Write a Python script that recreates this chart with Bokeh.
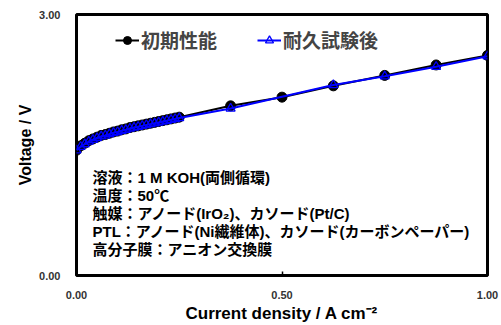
import math
from bokeh.plotting import figure
from bokeh.models import Range1d, FixedTicker, NumeralTickFormatter, Label, Legend, LegendItem, Title
from bokeh.embed import file_html
from bokeh.resources import INLINE

# ---- data ----
x_initial = [0.0, 0.01, 0.02, 0.03, 0.04, 0.05, 0.06, 0.07, 0.08, 0.09, 0.10, 0.11, 0.12,
             0.13, 0.14, 0.15, 0.16, 0.17, 0.18, 0.19, 0.20, 0.21, 0.22, 0.23, 0.24, 0.25,
             0.375, 0.50, 0.625, 0.75, 0.875, 1.00]
v_initial = [1.44, 1.49, 1.52, 1.55, 1.57, 1.59, 1.61, 1.62, 1.635, 1.65, 1.66, 1.675, 1.685,
             1.70, 1.71, 1.72, 1.73, 1.74, 1.75, 1.76, 1.77, 1.78, 1.79, 1.80, 1.81, 1.82,
             1.95, 2.05, 2.18, 2.30, 2.42, 2.53]
x_after = [0.0, 0.01, 0.02, 0.03, 0.04, 0.05, 0.06, 0.07, 0.08, 0.09, 0.10, 0.11, 0.12,
           0.13, 0.14, 0.15, 0.16, 0.17, 0.18, 0.19, 0.20, 0.21, 0.22, 0.23, 0.24, 0.25,
           0.375, 0.625, 0.75, 0.875, 1.00]
v_after = [1.44, 1.48, 1.51, 1.54, 1.56, 1.58, 1.60, 1.61, 1.625, 1.64, 1.65, 1.665, 1.675,
           1.69, 1.70, 1.71, 1.72, 1.73, 1.74, 1.75, 1.76, 1.77, 1.78, 1.79, 1.80, 1.81,
           1.92, 2.19, 2.29, 2.40, 2.52]
series_names = ["初期性能", "耐久試験後"]
x_ticks = [0.0, 0.5, 1.0]
y_ticks = [0.0, 3.0]
x_title = "Current density / A cm⁻²"
y_title = "Voltage / V"
notes = [
    "溶液：1 M KOH(両側循環)",
    "温度：50℃",
    "触媒：アノード(IrO₂)、カソード(Pt/C)",
    "PTL：アノード(Ni繊維体)、カソード(カーボンペーパー)",
    "高分子膜：アニオン交換膜",
]

p = figure(width=501, height=325, output_backend="svg", toolbar_location=None,
           x_range=Range1d(0, 1), y_range=Range1d(0, 3),
           min_border_left=76, min_border_right=14, min_border_top=14, min_border_bottom=50)
p.background_fill_color = "white"
p.border_fill_color = "white"
p.grid.visible = False
p.outline_line_color = "black"
p.outline_line_width = 3
p.outline_line_alpha = 1

for ax in (p.xaxis[0], p.yaxis[0]):
    ax.axis_line_color = None
    ax.major_tick_out = 0
    ax.major_tick_in = 4
    ax.major_tick_line_width = 1.5
    ax.major_tick_line_color = "black"
    ax.minor_tick_line_color = None
    ax.major_label_text_font = "Liberation Sans"
    ax.major_label_text_font_size = "11px"
    ax.major_label_text_font_style = "bold"
    ax.major_label_text_color = "#333333"
    ax.formatter = NumeralTickFormatter(format="0.00")

p.xaxis.ticker = FixedTicker(ticks=x_ticks)
p.yaxis.ticker = FixedTicker(ticks=y_ticks)
p.xaxis.major_label_standoff = 15
p.yaxis.major_label_standoff = 16
p.xaxis.axis_label = x_title
p.xaxis.axis_label_text_font = "Liberation Sans"
p.xaxis.axis_label_text_font_size = "17px"
p.xaxis.axis_label_text_font_style = "bold"
p.xaxis.axis_label_text_color = "black"
p.xaxis.axis_label_standoff = 2

# y title as a left-side Title, shifted up
p.add_layout(Title(text=y_title, align="center", offset=24,
                   text_font="Liberation Sans", text_font_size="16px",
                   text_font_style="bold", text_color="black", standoff=6), "left")

l1 = p.line(x_initial, v_initial, line_color="black", line_width=2)
s1 = p.scatter(x_initial, v_initial, marker="circle", size=10,
               fill_color="black", line_color="black")
l2 = p.line(x_after, v_after, line_color="#0000ff", line_width=2)
s2 = p.scatter(x_after, v_after, marker="triangle", size=9,
               fill_color=None, line_color="#0000ff", line_width=1.3)

legend = Legend(items=[LegendItem(label=series_names[0], renderers=[l1, s1]),
                       LegendItem(label=series_names[1], renderers=[l2, s2])],
                orientation="horizontal", location=(39, 222),
                border_line_color=None, background_fill_alpha=0,
                padding=0, margin=0, spacing=40, glyph_width=24, glyph_height=20,
                label_standoff=2, label_text_font="Noto Sans CJK JP",
                label_text_font_size="19px", label_text_font_style="bold",
                label_height=20)
p.add_layout(legend)

note_y = [1.126, 0.92, 0.713, 0.506, 0.30]
for t, yy in zip(notes, note_y):
    p.add_layout(Label(x=0.039, y=yy, text=t, text_align="left", text_baseline="middle",
                       text_font="Liberation Sans, Noto Sans CJK JP", text_font_size="15px",
                       text_font_style="bold", text_color="black"))

open("out.html", "w").write(file_html(p, INLINE))
